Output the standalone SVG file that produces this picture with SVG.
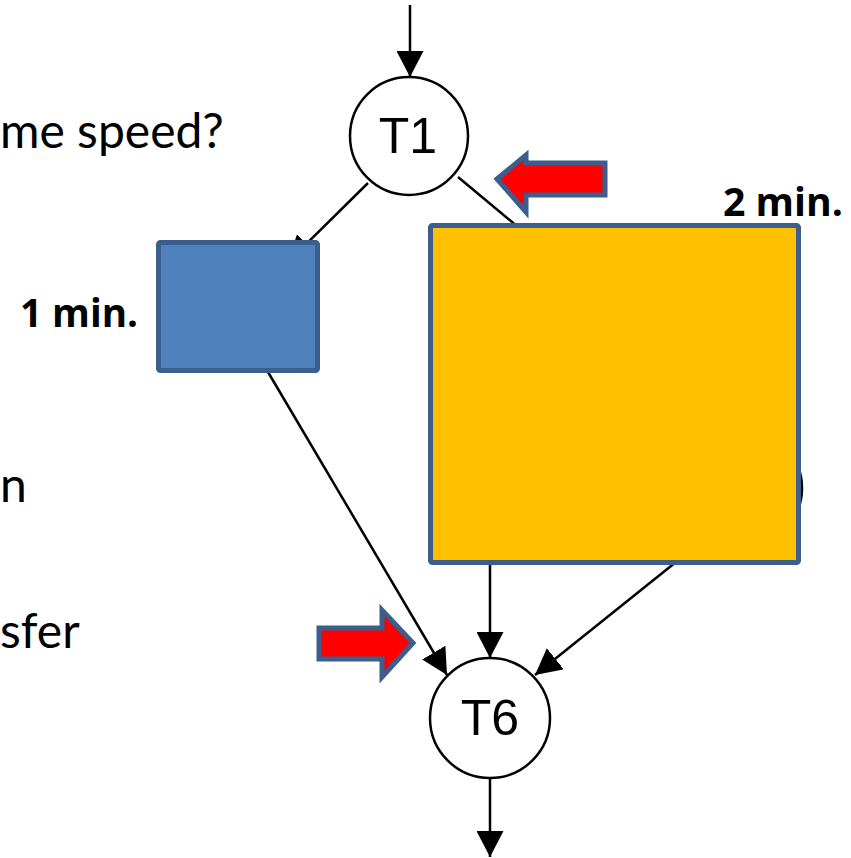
<svg xmlns="http://www.w3.org/2000/svg" width="851" height="858" viewBox="0 0 851 858">
  <style>
    .edge { stroke: #000; stroke-width: 2.5; fill: none; }
    .node { fill: #fff; stroke: #000; stroke-width: 2.5; }
    .ntext { font-family: "Liberation Sans", Arial, sans-serif; font-size: 50px; fill: #000; text-anchor: middle; }
    .body { font-family: Lato, "Open Sans", sans-serif; font-size: 48px; fill: #000; }
    .label { font-family: "Open Sans", "Liberation Sans", sans-serif; font-size: 39px; font-weight: bold; fill: #000; }
    .pointer { fill: #ff0000; stroke: #3b5e8c; stroke-width: 5; stroke-linejoin: miter; }
  </style>
  <defs>
    <marker id="head" markerUnits="userSpaceOnUse" markerWidth="27" markerHeight="27" refX="26" refY="13.5" orient="auto">
      <path d="M0,0 L26,13.5 L0,27 z" fill="#000"/>
    </marker>
  </defs>

  <!-- text fragments on the left -->
  <text class="body" x="0" y="148">me speed?</text>
  <text class="body" x="0" y="502">n</text>
  <text class="body" x="0" y="648">sfer</text>

  <!-- connectors -->
  <g id="connectors">
    <line class="edge" x1="410" y1="5" x2="410" y2="77" marker-end="url(#head)"/>
    <line class="edge" x1="368" y1="183" x2="288" y2="262" marker-end="url(#head)"/>
    <line class="edge" x1="458" y1="177" x2="560" y2="262"/>
    <line class="edge" x1="268" y1="372" x2="447" y2="675" marker-end="url(#head)"/>
    <line class="edge" x1="490" y1="562" x2="490" y2="658" marker-end="url(#head)"/>
    <line class="edge" x1="676" y1="562" x2="535" y2="675" marker-end="url(#head)"/>
    <line class="edge" x1="490" y1="778" x2="490" y2="857" marker-end="url(#head)"/>
  </g>

  <!-- node partly hidden behind the large task -->
  <g id="hidden-node">
    <circle class="node" cx="743" cy="488" r="59"/>
  </g>

  <g id="T1">
    <circle class="node" cx="409" cy="136" r="59"/>
    <text class="ntext" x="408" y="153">T1</text>
  </g>

  <g id="T6">
    <circle class="node" cx="490" cy="718" r="60"/>
    <text class="ntext" x="490" y="735">T6</text>
  </g>

  <!-- short task: 1 min. -->
  <g id="task-short">
    <rect x="158.5" y="242.5" width="159" height="128" rx="2" fill="#4f81bd" stroke="#3b5e8c" stroke-width="5"/>
  </g>
  <text class="label" x="20" y="327" textLength="118" lengthAdjust="spacingAndGlyphs">1 min.</text>

  <!-- long task: 2 min. -->
  <g id="task-long">
    <rect x="430.5" y="225.5" width="368" height="337" rx="2" fill="#ffc000" stroke="#3b5e8c" stroke-width="5"/>
  </g>
  <text class="label" x="723" y="216" textLength="120" lengthAdjust="spacingAndGlyphs">2 min.</text>

  <!-- highlight arrows -->
  <g id="pointer-top">
    <polygon class="pointer" points="497,179 526,155 526,163 605,163 605,195 526,195 526,212"/>
  </g>
  <g id="pointer-bottom">
    <polygon class="pointer" points="319,628 382,628 382,610 413,643 382,677 382,659 319,659"/>
  </g>
</svg>
